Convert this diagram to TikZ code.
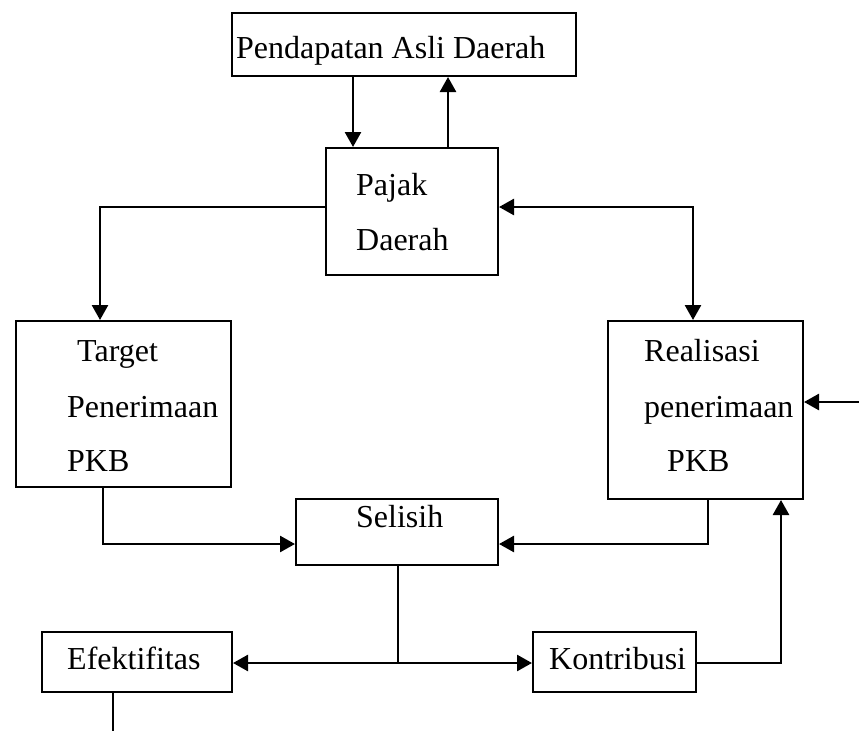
\documentclass[tikz,border=0pt]{standalone}
\usepackage{fontspec}
\setmainfont{Liberation Serif}
\usetikzlibrary{arrows.meta}
\begin{document}
\begin{tikzpicture}[x=1pt,y=-1pt,
  box/.style={draw,line width=2pt,rectangle,anchor=north west,inner sep=0pt},
  lbl/.style={anchor=base west,inner sep=0pt,font=\fontsize{32}{38}\selectfont},
  conn/.style={line width=2.6pt},
  arr/.style={conn,-{Triangle[length=15pt,width=16pt]}},
  arrboth/.style={conn,{Triangle[length=15pt,width=16pt]}-{Triangle[length=15pt,width=16pt]}},
  thinconn/.style={line width=1.6pt}]
\useasboundingbox (0,0) rectangle (859,731);
% boxes
\node[box,minimum width=344pt,minimum height=63pt] (pad) at (231,12) {};
\node[box,minimum width=172pt,minimum height=127pt] (pajak) at (325,147) {};
\node[box,minimum width=215pt,minimum height=166pt] (target) at (15,320) {};
\node[box,minimum width=195pt,minimum height=178pt] (real) at (607,320) {};
\node[box,minimum width=202pt,minimum height=66pt] (sel) at (295,498) {};
\node[box,minimum width=190pt,minimum height=60pt] (efek) at (41,631) {};
\node[box,minimum width=163pt,minimum height=60pt] (kon) at (532,631) {};
% texts
\node[lbl] (tpad) at (236,58) {Pendapatan Asli Daerah};
\node[lbl] (tpaj1) at (356,195) {Pajak};
\node[lbl] (tpaj2) at (356,250) {Daerah};
\node[lbl] (ttar1) at (77,361) {Target};
\node[lbl] (ttar2) at (67,417) {Penerimaan};
\node[lbl] (ttar3) at (67,471) {PKB};
\node[lbl] (treal1) at (644,361) {Realisasi};
\node[lbl] (treal2) at (644,417) {penerimaan};
\node[lbl] (treal3) at (667,471) {PKB};
\node[lbl] (tsel) at (356,527) {Selisih};
\node[lbl] (tefek) at (67,669) {Efektifitas};
\node[lbl] (tkon) at (549,669) {Kontribusi};
% helper coordinates
\coordinate (xa) at (353,0);
\coordinate (xb) at (448,0);
\coordinate (xc) at (100,0);
\coordinate (xd) at (693,0);
\coordinate (yt) at (0,207);
\coordinate (rin) at (859,402);
\coordinate (xe) at (103,0);
\coordinate (xf) at (708,0);
\coordinate (yb) at (0,544);
\coordinate (j) at (398,663);
\coordinate (xg) at (781,0);
\coordinate (xh) at (113,0);
\coordinate (ybot) at (0,731);
% connectors
\draw[arr] (pad.south -| xa) -- (pajak.north -| xa);
\draw[arr] (pajak.north -| xb) -- (pad.south -| xb);
\draw[arr] (pajak.west |- yt) -| (target.north -| xc);
\draw[arrboth] (pajak.east |- yt) -| (real.north -| xd);
\draw[arr] (rin) -- (real.east |- rin);
\draw[arr] (target.south -| xe) |- (sel.west |- yb);
\draw[arr] (real.south -| xf) |- (sel.east |- yb);
\draw[thinconn] (sel.south -| j) -- (j);
\draw[arr] (j) -- (efek.east |- j);
\draw[arr] (j) -- (kon.west |- j);
\draw[arr] (kon.east |- j) -| (real.south -| xg);
\draw[thinconn] (efek.south -| xh) -- (xh |- ybot);
\end{tikzpicture}
\end{document}
